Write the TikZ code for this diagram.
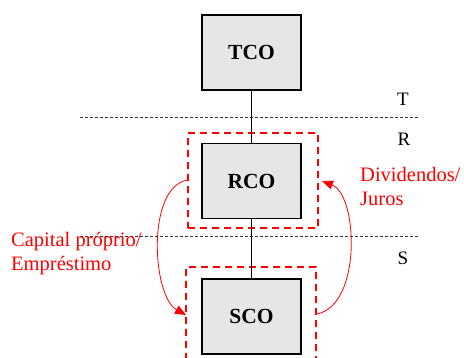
\documentclass[tikz,border=0pt]{standalone}
\usepackage{fontspec}
\setmainfont{Liberation Serif}
\usetikzlibrary{arrows.meta}
\definecolor{boxgray}{HTML}{E6E6E6}
\definecolor{flowred}{HTML}{FF0000}
\tikzset{
  company/.style={draw=black, line width=1.5pt, fill=boxgray, minimum width=99pt,
    minimum height=75pt, inner sep=0pt, font=\fontsize{21.5}{25}\selectfont\bfseries},
  groupframe/.style={draw=flowred, line width=1.8pt, dash pattern=on 7pt off 5pt,
    minimum width=130pt, inner sep=0pt},
  levelline/.style={line width=0.8pt, dash pattern=on 3pt off 2pt, black!80},
  levellabel/.style={font=\fontsize{19}{22}\selectfont, inner sep=0pt},
  flowtext/.style={text=flowred, align=left, inner sep=0pt,
    font=\fontsize{20.5}{24}\selectfont},
  flow/.style={draw=flowred, line width=0.8pt,
    -{Triangle[length=11pt, width=9pt]}},
  link/.style={line width=1pt}
}
\begin{document}
\begin{tikzpicture}[x=1pt, y=-1pt]
  \useasboundingbox (0,0) rectangle (464,358);

  % holding levels
  \coordinate (lT0) at (80,117);  \coordinate (lT1) at (420,117);
  \coordinate (lS0) at (80,236);  \coordinate (lS1) at (420,236);
  \draw[levelline] (lT0) -- (lT1);
  \draw[levelline] (lS0) -- (lS1);
  \node[levellabel] (labT) at (403,99) {T};
  \node[levellabel] (labR) at (404,139) {R};
  \node[levellabel] (labS) at (403,258) {S};

  % group frames
  \node[groupframe, minimum height=95pt] (rframe) at (253,180.5) {};
  \node[groupframe, minimum height=110pt] (sframe) at (251,322) {};

  % companies
  \node[company] (tco) at (251.5,52.5) {TCO};
  \node[company] (rco) at (251.5,181) {RCO};
  \node[company] (sco) at (251.5,316.5) {SCO};
  \draw[link] (tco.south) -- (rco.north);
  \draw[link] (rco.south) -- (sco.north);

  % capital and income flows
  \coordinate (capIn) at (188,180);
  \coordinate (capOut) at (186,315);
  \coordinate (divIn) at (317,314);
  \coordinate (divOut) at (322,181);
  \draw[flow] (capIn) .. controls (146,186) and (152,296) .. (capOut);
  \draw[flow] (divIn) .. controls (362,305) and (358,195) .. (divOut);

  \node[flowtext, anchor=base west] (captxt) at (11,271)
    {Capital próprio/\\Empréstimo};
  \node[flowtext, anchor=base west] (divtxt) at (360,206)
    {Dividendos/\\Juros};
\end{tikzpicture}
\end{document}
